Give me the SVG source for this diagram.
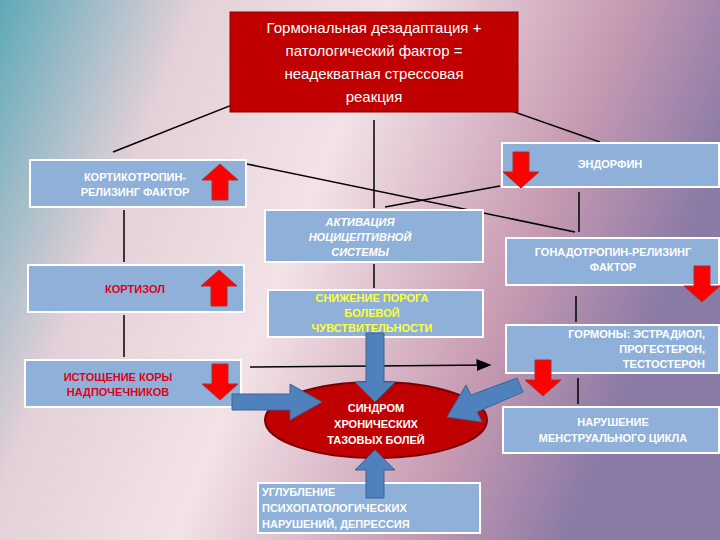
<svg xmlns="http://www.w3.org/2000/svg" width="720" height="540" viewBox="0 0 720 540">
<defs>
<linearGradient id="bg" x1="0" y1="0" x2="1" y2="0.3">
<stop offset="0" stop-color="#5fa9b8"/><stop offset="0.25" stop-color="#e3d0d8"/><stop offset="0.5" stop-color="#f2e2e6"/><stop offset="0.8" stop-color="#c79ab2"/><stop offset="1" stop-color="#8a7aa6"/>
</linearGradient>
<marker id="ah" markerWidth="10" markerHeight="8" refX="9" refY="4" orient="auto"><path d="M0,0 L10,4 L0,8 z" fill="#000"/></marker>
<symbol id="up" viewBox="0 0 40 40"><path d="M20,2 L38,18 L28,18 L28,38 L12,38 L12,18 L2,18 z" fill="#f00" stroke="#a33" stroke-width="1"/></symbol>
<symbol id="dn" viewBox="0 0 40 40"><path d="M20,38 L38,22 L28,22 L28,2 L12,2 L12,22 L2,22 z" fill="#f00" stroke="#a33" stroke-width="1"/></symbol>
<style>
.b{fill:#8fb0d8;stroke:#fff;stroke-width:2}
.t{font-family:"Liberation Sans",Arial,sans-serif;font-weight:bold;font-size:11px;text-anchor:middle}
.w{fill:#fff}.r{fill:#e0001a}.y{fill:#ffff33}
.l{stroke:#000;stroke-width:1.5;fill:none}
.ba{fill:#4f81bd;stroke:#3a6595;stroke-width:1}
</style>
</defs>
<rect width="720" height="540" fill="url(#bg)"/>
<g id="connectors">
<line class="l" x1="265" y1="92" x2="113" y2="152"/>
<line class="l" x1="480" y1="100" x2="600" y2="142"/>
<line class="l" x1="247" y1="164" x2="575" y2="232"/>
<line class="l" x1="500" y1="186" x2="385" y2="207"/>
<line class="l" x1="374" y1="120" x2="374" y2="208"/>
<line class="l" x1="374" y1="264" x2="374" y2="288"/>
<line class="l" x1="124" y1="210" x2="124" y2="262"/>
<line class="l" x1="124" y1="315" x2="124" y2="357"/>
<line class="l" x1="579" y1="192" x2="579" y2="232"/>
<line class="l" x1="576" y1="296" x2="576" y2="322"/>
<line class="l" x1="578" y1="378" x2="578" y2="404"/>
<line class="l" x1="250" y1="367" x2="490" y2="365" marker-end="url(#ah)"/>
</g>
<g id="title"><rect x="230" y="12" width="288" height="100" fill="#c00000" stroke="#8b0000"/>
<g font-family="'Liberation Sans',Arial,sans-serif" font-size="15" fill="#fff" text-anchor="middle"><text x="374" y="33">Гормональная дезадаптация +</text><text x="374" y="56">патологический фактор =</text><text x="374" y="79">неадекватная стрессовая</text><text x="374" y="102">реакция</text></g></g>
<g id="krf"><rect class="b" x="30" y="160" width="216" height="47"/><text class="t w" x="135" y="181">КОРТИКОТРОПИН-</text><text class="t w" x="135" y="196">РЕЛИЗИНГ ФАКТОР</text><use href="#up" x="200" y="162" width="40" height="40"/></g>
<g id="cort"><rect class="b" x="28" y="265" width="216" height="47"/><text class="t r" x="135" y="293">КОРТИЗОЛ</text><use href="#up" x="199" y="268" width="40" height="40"/></g>
<g id="ist"><rect class="b" x="25" y="360" width="216" height="47"/><text class="t r" x="118" y="381">ИСТОЩЕНИЕ КОРЫ</text><text class="t r" x="118" y="396">НАДПОЧЕЧНИКОВ</text><use href="#dn" x="200" y="362" width="40" height="40"/></g>
<g id="act"><rect class="b" x="265" y="210" width="218" height="52"/><g font-style="italic"><text class="t w" x="360" y="226">АКТИВАЦИЯ</text><text class="t w" x="360" y="241">НОЦИЦЕПТИВНОЙ</text><text class="t w" x="360" y="256">СИСТЕМЫ</text></g></g>
<g id="snizh"><rect class="b" x="268" y="290" width="215" height="47"/><text class="t y" x="372" y="302">СНИЖЕНИЕ ПОРОГА</text><text class="t y" x="372" y="317">БОЛЕВОЙ</text><text class="t y" x="372" y="332">ЧУВСТВИТЕЛЬНОСТИ</text></g>
<g id="endo"><rect class="b" x="502" y="143" width="217" height="44"/><text class="t w" x="610" y="168">ЭНДОРФИН</text><use href="#dn" x="501" y="150" width="40" height="40"/></g>
<g id="gnrg"><rect class="b" x="506" y="238" width="213" height="47"/><text class="t w" x="613" y="256">ГОНАДОТРОПИН-РЕЛИЗИНГ</text><text class="t w" x="613" y="271">ФАКТОР</text><use href="#dn" x="682" y="264" width="40" height="40"/></g>
<g id="horm"><rect class="b" x="506" y="325" width="213" height="48"/><text class="t w" x="705" y="338" style="text-anchor:end">ГОРМОНЫ: ЭСТРАДИОЛ,</text><text class="t w" x="705" y="353" style="text-anchor:end">ПРОГЕСТЕРОН,</text><text class="t w" x="705" y="368" style="text-anchor:end">ТЕСТОСТЕРОН</text><use href="#dn" x="523" y="358" width="40" height="40"/></g>
<g id="narush"><rect class="b" x="503" y="407" width="216" height="46"/><text class="t w" x="613" y="426">НАРУШЕНИЕ</text><text class="t w" x="613" y="442">МЕНСТРУАЛЬНОГО ЦИКЛА</text></g>
<g id="sindrom"><ellipse cx="376" cy="420" rx="111" ry="38" fill="#c00000" stroke="#7a0000" stroke-width="2"/><text class="t w" x="376" y="412">СИНДРОМ</text><text class="t w" x="376" y="428">ХРОНИЧЕСКИХ</text><text class="t w" x="376" y="444">ТАЗОВЫХ БОЛЕЙ</text></g>
<g id="uglub"><rect class="b" x="258" y="483" width="222" height="50"/><text class="t w" x="262" y="496" style="text-anchor:start">УГЛУБЛЕНИЕ</text><text class="t w" x="262" y="512" style="text-anchor:start">ПСИХОПАТОЛОГИЧЕСКИХ</text><text class="t w" x="262" y="528" style="text-anchor:start">НАРУШЕНИЙ, ДЕПРЕССИЯ</text></g>
<g id="block-arrows">
<path class="ba" d="M232,394 L290,394 L290,384 L322,402 L290,420 L290,410 L232,410 z"/>
<path class="ba" d="M366,333 L384,333 L384,382 L395,382 L375,402 L355,382 L366,382 z"/>
<path class="ba" d="M517,378 L523,392 L477,412 L482,422 L447,417 L466,385 L471,395 z"/>
<path class="ba" d="M366,498 L384,498 L384,470 L395,470 L375,450 L355,470 L366,470 z"/>
</g>
</svg>
